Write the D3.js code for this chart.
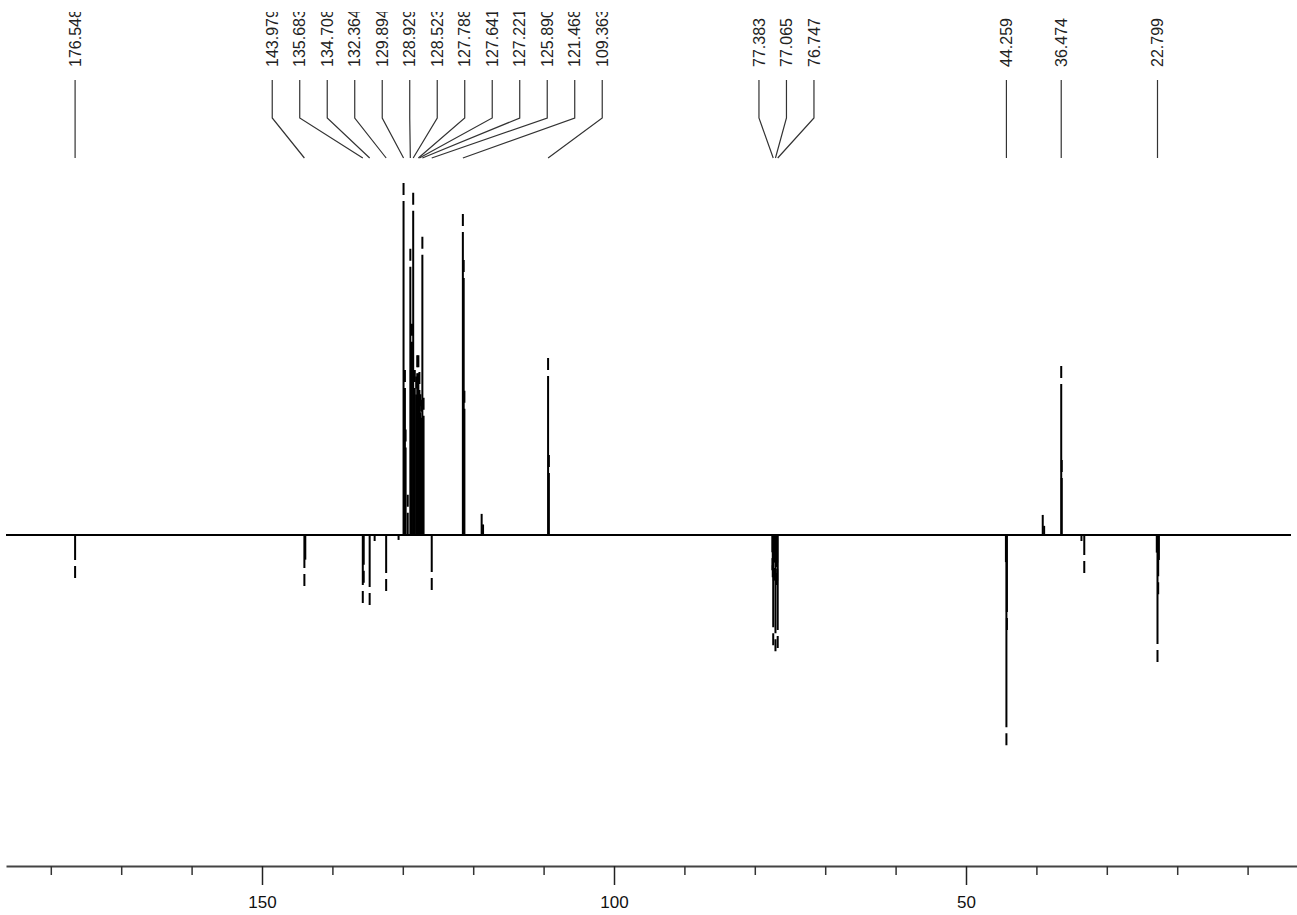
<!DOCTYPE html>
<html>
<head>
<meta charset="utf-8">
<script src="https://cdn.jsdelivr.net/npm/d3@7"></script>
<style>
  body { margin: 0; background: #fff; }
  svg { display: block; }
</style>
</head>
<body>
<div id="chart"></div>
<script>
// peak labels (ppm) shown on top
const labelPpm = [176.548, 143.979, 135.683, 134.708, 132.364, 129.894, 128.929, 128.523,
    127.788, 127.641, 127.221, 125.890, 121.468, 109.363, 77.383, 77.065, 76.747,
    44.259, 36.474, 22.799];

// spectrum lines: position (ppm) and relative intensity (+ up, - down)
const peakPpm = [129.894, 129.70, 129.60, 129.30, 128.929, 128.70, 128.523, 128.30, 128.10, 127.95, 127.788,
    127.641, 127.50, 127.40, 127.221, 127.05, 121.468, 121.35, 121.25, 118.8, 118.6, 109.363, 109.25,
    39.1, 38.9, 36.474, 36.40,
    176.548, 143.979, 143.85, 135.683, 135.55, 134.708, 134.0, 132.364, 130.6, 125.890,
    77.50, 77.45, 77.383, 77.30, 77.22, 77.15, 77.065, 76.9, 76.82, 76.747,
    44.33, 44.259, 44.19, 33.6, 33.20,
    22.9, 22.799, 22.70, 22.60];
const peakInt = [100, 46.9, 30, 11.4, 81.3, 60, 97.2, 46.9, 45, 51.1, 51.1,
    46.3, 40, 38.4, 84.7, 39, 91.2, 78.1, 41, 6, 3, 50.3, 22.7,
    5.7, 2.6, 48, 21.3,
    -12.2, -14.5, -7, -19.3, -13.6, -19.9, -1.7, -15.9, -1.4, -15.6,
    -10, -12, -31.3, -13, -12.8, -12.8, -33, -14.2, -13, -32.1,
    -7.7, -59.7, -27, -1.7, -10.8,
    -5, -36.1, -16.8, -7.1];

const majorTicks = [150, 100, 50];
const minorTicks = [180, 170, 160, 140, 130, 120, 110, 90, 80, 70, 60, 40, 30, 20, 10];

const W = 1297, H = 915;
const axisY = 866;

const svg = d3.select("#chart").append("svg")
    .attr("width", W)
    .attr("height", H);

const x = d3.scaleLinear().domain([150, 50]).range([262, 966]);
x.domain([x.invert(6), x.invert(W)]).range([6, W]);

const y = d3.scaleLinear().domain([0, 100]).range([535, 183]);

// baseline
svg.append("line")
    .attr("x1", 6).attr("x2", W - 6)
    .attr("y1", y(0)).attr("y2", y(0))
    .attr("stroke", "#000")
    .attr("stroke-width", 2);

// sticks
const peaks = peakPpm.map((p, i) => ({ ppm: p, v: peakInt[i] }));
svg.append("g").selectAll("path")
    .data(peaks)
    .enter().append("path")
    .attr("d", d => `M${x(d.ppm)},${y(0)}V${y(d.v)}`)
    .attr("stroke", "#000")
    .attr("stroke-width", 2)
    .attr("fill", "none")
    .attr("stroke-dasharray", d => {
        const L = Math.abs(y(d.v) - y(0));
        return L > 30 ? `${L - 18} 6 12 100` : null;
    });

// label layout - spread overlapping labels evenly
const sp = 27.5;
let groups = labelPpm.map(p => ({ ids: [p], lo: x(p), hi: x(p) }))
    .sort((a, b) => a.lo - b.lo);
function place(g) {
    const c = (g.lo + g.hi) / 2 + (g.ids.length > 1 ? 11 : 0);
    const w = (g.ids.length - 1) * sp;
    return [c - w / 2, c + w / 2];
}
let merged = true;
while (merged) {
    merged = false;
    for (let i = 0; i < groups.length - 1; i++) {
        const a = place(groups[i]), b = place(groups[i + 1]);
        if (b[0] - a[1] < sp) {
            const g = groups[i], h = groups[i + 1];
            groups.splice(i, 2, { ids: g.ids.concat(h.ids), lo: Math.min(g.lo, h.lo), hi: Math.max(g.hi, h.hi) });
            merged = true;
            break;
        }
    }
}
const labels = [];
groups.forEach(g => {
    const [s0] = place(g);
    g.ids.sort((a, b) => b - a).forEach((p, i) => labels.push({ ppm: p, lx: s0 + i * sp }));
});

svg.append("clipPath").attr("id", "topclip")
    .append("rect").attr("x", 0).attr("y", 12).attr("width", W).attr("height", H);

const lab = svg.append("g").attr("clip-path", "url(#topclip)");

lab.selectAll("path")
    .data(labels)
    .enter().append("path")
    .attr("d", d => `M${d.lx},80V118L${x(d.ppm)},158`)
    .attr("stroke", "#333")
    .attr("stroke-width", 1.2)
    .attr("fill", "none");

lab.selectAll("text")
    .data(labels)
    .enter().append("text")
    .attr("transform", d => `translate(${d.lx},67) rotate(-90)`)
    .attr("dy", "0.35em")
    .attr("text-anchor", "start")
    .style("font-family", "'Liberation Sans', Arial, sans-serif")
    .style("font-size", "16px")
    .attr("fill", "#222")
    .text(d => d.ppm.toFixed(3));

// x axis
const ax = svg.append("g").attr("transform", `translate(0,${axisY})`);
ax.call(d3.axisBottom(x).tickValues(minorTicks).tickSize(9).tickSizeOuter(0).tickFormat(""));
ax.select(".domain").attr("stroke", "#444").attr("stroke-width", 2);
ax.selectAll(".tick line").attr("stroke", "#333").attr("stroke-width", 1.5);

const ax2 = svg.append("g").attr("transform", `translate(0,${axisY})`);
ax2.call(d3.axisBottom(x).tickValues(majorTicks).tickSize(19).tickSizeOuter(0));
ax2.select(".domain").remove();
ax2.selectAll(".tick line").attr("stroke", "#222").attr("stroke-width", 1.5);
ax2.selectAll(".tick text")
    .attr("y", 30)
    .attr("dy", "0.71em")
    .attr("fill", "#111")
    .style("font-family", "'Liberation Sans', Arial, sans-serif")
    .style("font-size", "17px");
</script>
</body>
</html>
